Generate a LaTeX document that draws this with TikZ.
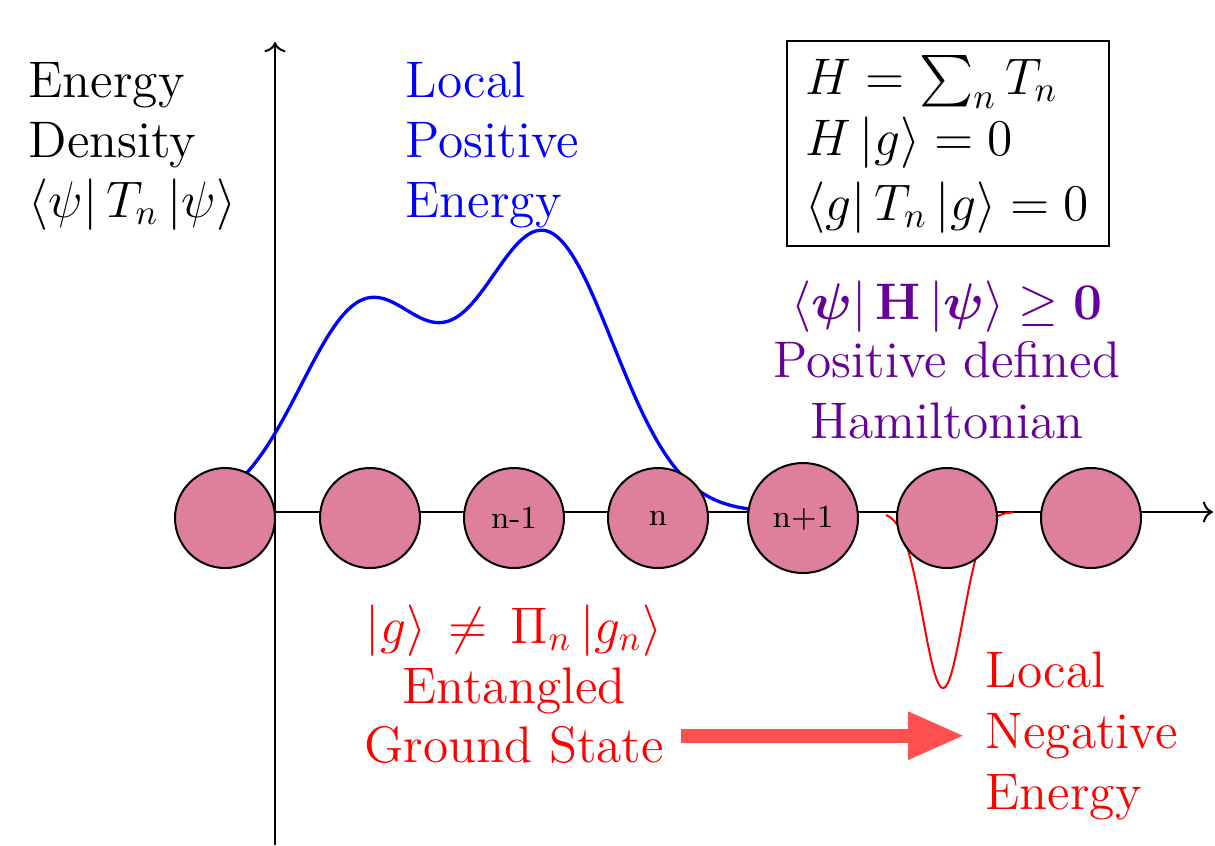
\documentclass[tikz,border=0pt]{standalone}
\usepackage{amsmath}
\usetikzlibrary{arrows.meta}
\definecolor{sitecol}{RGB}{222,128,155}
\definecolor{purp}{RGB}{102,0,153}
\definecolor{arrred}{RGB}{255,80,80}
\begin{document}
\begin{tikzpicture}[x=0.28pt,y=-0.28pt,font=\Large,
  thinline/.style={line width=0.56pt},
  site/.style={circle,draw,thinline,fill=sitecol,minimum size=28pt,inner sep=0pt,font=\small},
  txtl/.style={anchor=base west,inner sep=0pt},
  txtc/.style={anchor=base,inner sep=0pt},
  axis/.style={->,thinline},
  bigarrow/.style={-{Triangle[length=15.9pt,width=12.3pt]},line width=3.93pt,arrred}]
\useasboundingbox (0,0) rectangle (1215,845);
% axes
\coordinate (O) at (275,512);
\coordinate (xend) at (1213,512);
\coordinate (ybot) at (275,845);
\coordinate (yend) at (275,42);
\draw[axis] (ybot) -- (yend);
\draw[axis] (O) -- (xend);
% positive energy density
\draw[blue,line width=0.93pt,domain=2.36:7.5,samples=120,smooth]
  plot ({100*\x},{512-205*exp(-((\x-3.65)^2)/0.845)-277*exp(-((\x-5.45)^2)/0.924)});
% negative energy dip
\draw[red,thinline,domain=8.86:10.13,samples=90,smooth]
  plot ({100*\x},{512+176*exp(-((\x-9.43)^2)/0.08)});
% sites
\node[site] (c1) at (225,518) {};
\node[site] (c2) at (370,518) {};
\node[site] (c3) at (514,518) {n-1};
\node[site] (c4) at (658,518) {n};
\node[site,minimum size=30.8pt] (c5) at (803,518) {n+1};
\node[site] (c6) at (947,518) {};
\node[site] (c7) at (1091,518) {};
% left label
\node[txtl] (e1) at (28,97) {Energy};
\node[txtl] (e2) at (28,157) {Density};
\node[txtl] (e3) at (28,217) {$\left\langle\psi\right| T_n \left|\psi\right\rangle$};
% blue label
\node[txtl,text=blue] (p1) at (405,97) {Local};
\node[txtl,text=blue] (p2) at (405,157) {Positive};
\node[txtl,text=blue] (p3) at (405,217) {Energy};
% box
\node[draw,thinline,anchor=north west,inner sep=0pt,minimum width=90.2pt,minimum height=57.4pt] (box) at (786,40) {};
\node[txtl] (b1) at (805,94) {$H=\sum_n T_n$};
\node[txtl] (b2) at (805,155) {$H\left|g\right\rangle=0$};
\node[txtl] (b3) at (805,220) {$\left\langle g\right| T_n \left|g\right\rangle=0$};
% purple
\node[txtc,text=purp] (h1) at (947,319) {$\left\langle\boldsymbol{\psi}\right| \mathbf{H} \left|\boldsymbol{\psi}\right\rangle \geq \mathbf{0}$};
\node[txtc,text=purp] (h2) at (947,377) {Positive defined};
\node[txtc,text=purp] (h3) at (947,438) {Hamiltonian};
% red below
\node[txtc,text=red] (g1) at (514,643) {$\left|g\right\rangle \,\neq\, \Pi_n \left|g_n\right\rangle$};
\node[txtc,text=red] (g2) at (514,703) {Entangled};
\node[txtc,text=red] (gs) at (514,762) {Ground State};
% local negative
\node[txtl,text=red] (n1) at (985,687) {Local};
\node[txtl,text=red] (neg) at (985,748) {Negative};
\node[txtl,text=red] (n3) at (985,809) {Energy};
\draw[bigarrow,shorten <=4.5pt,shorten >=5.6pt] (gs.east |- neg.west) -- (neg.west);
\end{tikzpicture}
\end{document}
